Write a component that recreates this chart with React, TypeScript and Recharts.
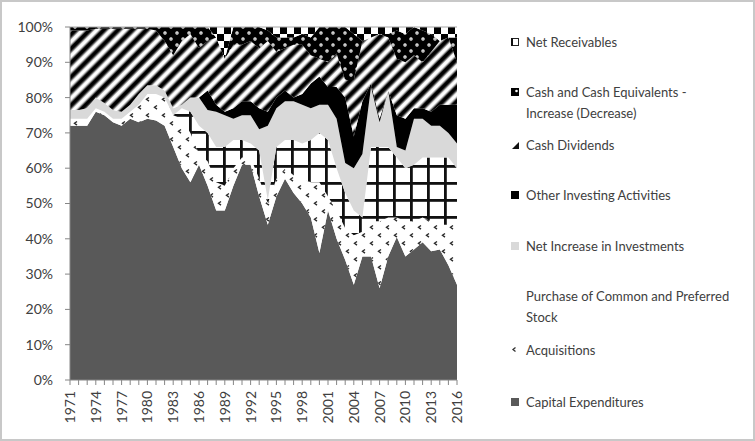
import { Area, AreaChart, ReferenceLine, XAxis, YAxis } from 'recharts';

const years = [
  1971, 1972, 1973, 1974, 1975, 1976, 1977, 1978, 1979, 1980,
  1981, 1982, 1983, 1984, 1985, 1986, 1987, 1988, 1989, 1990,
  1991, 1992, 1993, 1994, 1995, 1996, 1997, 1998, 1999, 2000,
  2001, 2002, 2003, 2004, 2005, 2006, 2007, 2008, 2009, 2010,
  2011, 2012, 2013, 2014, 2015, 2016,
];

// shares in % per year (bottom of the stack first)
const capitalExpenditures = [
  72, 72, 72, 76, 75, 73, 72, 74, 73, 74,
  73.5, 72, 66, 60, 56, 61, 55, 48, 48, 55,
  61, 61, 52, 44, 52, 57, 53, 50, 46, 36,
  48, 40, 34, 27, 35, 35, 26, 35, 40.5, 35,
  37, 39, 36.5, 37, 32.5, 27,
];
const acquisitions = [
  2, 2, 2, 1, 1, 1, 2, 2, 5, 7,
  7.5, 8, 9, 14, 14, 3, 7, 8, 7, 5,
  2, 2, 5, 6, 5, 3, 5, 7, 10, 20,
  4, 8, 9, 14, 7, 10, 19, 11, 5.5, 10,
  8, 7, 8.5, 7, 11.5, 17,
];
const stockPurchase = [
  0, 0, 0, 0, 0, 0, 0, 0, 0, 0,
  0, 0, 0, 3, 6, 8, 8, 10, 11, 8,
  5, 4, 8, 1, 9, 8, 10, 10, 12, 14,
  16, 12, 10, 7, 4, 21, 21, 20, 17, 15,
  16, 17, 18, 19, 19, 16,
];
const netInvestments = [
  2.5, 2.5, 3, 3, 2.5, 2.5, 2, 2, 3, 2.5,
  2.5, 2, 2, 1, 4, 8, 6.5, 10, 9, 6,
  7, 8, 6, 21, 11, 11, 11, 11, 9, 8,
  10, 14, 8.5, 12, 18, 17, 7, 16, 3, 5,
  13, 11, 9, 9, 7, 7,
];
const otherInvesting = [
  0, 0, 0, 0, 0, 0, 0, 0, 0, 0,
  0, 0, 0, 0, 0, 0, 5.5, 2, 1, 3,
  4, 4, 6, 4, 3, 3, 1, 3, 7, 8,
  5, 9, 18.5, 9, 15, 1, 1, 0, 9, 9,
  3, 3, 4, 6, 8, 11,
];
const cashDividends = [
  22.5, 22.5, 22, 19.5, 21, 23, 23.5, 21.5, 18.5, 16,
  15.5, 14, 15, 18, 18, 14, 14, 19, 15, 18,
  16, 17, 17, 20, 13, 12, 15, 14, 8, 5,
  7, 9.5, 5, 16, 17, 13, 24, 15, 16, 16,
  15, 13, 17, 18, 19, 12,
];
const cashChange = [
  1, 1, 1, 0.5, 0.5, 0.5, 0.5, 0.5, 0.5, 0.5,
  1, 4, 8, 4, 2, 6, 4, 0, 0, 5,
  5, 4, 6, 3, 4, 3, 2, 3, 5, 9,
  10, 7.5, 15, 13, 0, 0, 0, 1, 8, 8,
  8, 9, 5, 0, 0, 7,
];
const netReceivables = [
  0, 0, 0, 0, 0, 0, 0, 0, 0, 0,
  0, 0, 0, 0, 0, 0, 0, 3, 9, 0,
  0, 0, 0, 1, 3, 3, 3, 2, 3, 0,
  0, 0, 0, 2, 4, 3, 2, 2, 1, 2,
  0, 1, 2, 4, 3, 3,
];

const yTicks = [0, 0.1, 0.2, 0.3, 0.4, 0.5, 0.6, 0.7, 0.8, 0.9, 1];

const series = [
  { key: 'ce', name: 'Capital Expenditures', values: capitalExpenditures, fill: '#595959' },
  { key: 'aq', name: 'Acquisitions', values: acquisitions, fill: 'url(#pat-aq)' },
  { key: 'ps', name: 'Purchase of Common and Preferred Stock', values: stockPurchase, fill: 'url(#pat-ps)' },
  { key: 'ni', name: 'Net Increase in Investments', values: netInvestments, fill: '#d9d9d9' },
  { key: 'oi', name: 'Other Investing Activities', values: otherInvesting, fill: '#000000' },
  { key: 'cd', name: 'Cash Dividends', values: cashDividends, fill: 'url(#pat-cd)' },
  { key: 'cc', name: 'Cash and Cash Equivalents - Increase (Decrease)', values: cashChange, fill: 'url(#pat-cc)' },
  { key: 'nr', name: 'Net Receivables', values: netReceivables, fill: 'url(#pat-nr)' },
];

const data = years.map((year, i) => {
  const row: Record<string, number> = { year };
  series.forEach((s) => {
    row[s.key] = s.values[i];
  });
  return row;
});

const FONT = 'Lato, "Open Sans", sans-serif';
const AXIS = '#868686';
const TEXT = '#404040';

function YearTick(props: any) {
  const { x, y, payload, index } = props;
  return (
    <g>
      <line x1={x} x2={x} y1={y - 11} y2={y - 6} stroke={AXIS} />
      {index % 3 === 0 && (
        <text
          transform={`translate(${x},${y}) rotate(-90)`}
          textAnchor="end"
          dy="0.36em"
          fontSize={14}
          fontFamily={FONT}
          fill={TEXT}
        >
          {payload.value}
        </text>
      )}
    </g>
  );
}

function Marker({ kind }: { kind: string }) {
  const box = { position: 'absolute' as const, left: 0, top: -4, width: 8, height: 8 };
  if (kind === 'nr')
    return (
      <svg style={box} width={8} height={8}>
        <rect x={0.5} y={0.5} width={7} height={7} fill="#fff" stroke="#222" strokeWidth={1} />
        <rect x={0} y={0} width={2} height={8} fill="#111" />
      </svg>
    );
  if (kind === 'cc')
    return (
      <svg style={box} width={8} height={8}>
        <rect width={8} height={8} fill="#000" />
        <circle cx={5.5} cy={3} r={1.3} fill="#fff" />
      </svg>
    );
  if (kind === 'cd')
    return (
      <svg style={box} width={8} height={8}>
        <path d="M8,1 L8,8 L1,8 Z" fill="#111" />
      </svg>
    );
  if (kind === 'aq')
    return (
      <svg style={box} width={8} height={8}>
        <path d="M4.5,1.5 L2,3.5 L4.5,5.5" fill="none" stroke="#333" strokeWidth={1.3} />
      </svg>
    );
  if (kind === 'ps') return null;
  const fill = kind === 'ce' ? '#595959' : kind === 'ni' ? '#d9d9d9' : '#000';
  return (
    <svg style={box} width={8} height={8}>
      <rect width={8} height={8} fill={fill} />
    </svg>
  );
}

const legendRows = [
  { key: 'nr', lines: ['Net Receivables'], top: 42 },
  { key: 'cc', lines: ['Cash and Cash Equivalents -', 'Increase (Decrease)'], top: 92 },
  { key: 'cd', lines: ['Cash Dividends'], top: 145 },
  { key: 'oi', lines: ['Other Investing Activities'], top: 195 },
  { key: 'ni', lines: ['Net Increase in Investments'], top: 246 },
  { key: 'ps', lines: ['Purchase of Common and Preferred', 'Stock'], top: 296 },
  { key: 'aq', lines: ['Acquisitions'], top: 350 },
  { key: 'ce', lines: ['Capital Expenditures'], top: 402 },
];

function SideLegend() {
  return (
    <div style={{ position: 'absolute', left: 511, top: 0, fontFamily: FONT, fontSize: 13, color: TEXT }}>
      {legendRows.map((row) => (
        <div key={row.key} style={{ position: 'absolute', left: 0, top: row.top, width: 230 }}>
          <Marker kind={row.key} />
          {row.lines.map((line, j) => (
            <div
              key={j}
              style={{ position: 'absolute', left: 15, top: j * 21 - 9, lineHeight: '18px', whiteSpace: 'nowrap' }}
            >
              {line}
            </div>
          ))}
        </div>
      ))}
    </div>
  );
}

export default function App() {
  return (
    <div style={{ position: 'absolute', left: 0, top: 0, width: 755, height: 441, background: '#fff', overflow: 'hidden' }}>
      <AreaChart
        width={755}
        height={441}
        data={data}
        stackOffset="expand"
        margin={{ top: 27, right: 298, bottom: 0, left: 0 }}
      >
        <defs>
          <pattern id="pat-aq" width={16} height={16} patternUnits="userSpaceOnUse">
            <rect width={16} height={16} fill="#fff" />
            <path d="M5,1.5 L2.5,3.3 L5,5.1 M13,9.5 L10.5,11.3 L13,13.1" fill="none" stroke="#2a2a2a" strokeWidth={1.4} />
          </pattern>
          <pattern id="pat-ps" width={17} height={17} patternUnits="userSpaceOnUse" x={2} y={12}>
            <rect width={17} height={17} fill="#fff" />
            <rect width={17} height={2.8} fill="#111" />
            <rect width={2.8} height={17} fill="#111" />
          </pattern>
          <linearGradient id="grad-cd" x1="0" x2="1" y1="0" y2="0">
            <stop offset="0" stopColor="#fff" />
            <stop offset="0.1" stopColor="#fff" />
            <stop offset="0.34" stopColor="#000" />
            <stop offset="0.6" stopColor="#000" />
            <stop offset="0.86" stopColor="#fff" />
            <stop offset="1" stopColor="#fff" />
          </linearGradient>
          <pattern id="pat-cd" width={10} height={10} patternUnits="userSpaceOnUse" patternTransform="rotate(45)">
            <rect width={10} height={10} fill="url(#grad-cd)" />
          </pattern>
          <pattern id="pat-cc" width={12} height={12} patternUnits="userSpaceOnUse">
            <rect width={12} height={12} fill="#000" />
            <circle cx={3} cy={3} r={1.7} fill="#fff" />
            <circle cx={3} cy={3} r={0.6} fill="#000" />
            <circle cx={9} cy={9} r={1.7} fill="#fff" />
            <circle cx={9} cy={9} r={0.6} fill="#000" />
          </pattern>
          <pattern id="pat-nr" width={14} height={14} patternUnits="userSpaceOnUse" y={27}>
            <rect width={14} height={14} fill="#fff" />
            <rect width={7} height={7} fill="#000" />
            <rect x={7} y={7} width={7} height={7} fill="#000" />
          </pattern>
        </defs>
        <XAxis
          dataKey="year"
          type="category"
          interval={0}
          height={61}
          tickSize={5}
          tickMargin={6}
          tickLine={false}
          axisLine={{ stroke: AXIS }}
          tick={<YearTick />}
        />
        <YAxis
          width={70}
          domain={[0, 1]}
          ticks={yTicks}
          tickFormatter={(v: number) => `${Math.round(v * 100)}%`}
          tickSize={5}
          tickMargin={12}
          axisLine={{ stroke: AXIS }}
          tickLine={{ stroke: AXIS }}
          tick={{ fontSize: 14, fontFamily: FONT, fill: TEXT }}
        />
        {series.map((s) => (
          <Area
            key={s.key}
            type="linear"
            dataKey={s.key}
            name={s.name}
            stackId="1"
            stroke="none"
            fill={s.fill}
            fillOpacity={1}
            isAnimationActive={false}
          />
        ))}
        <ReferenceLine y={1} stroke="#a6a6a6" />
      </AreaChart>
      <SideLegend />
      <div
        style={{
          position: 'absolute',
          inset: 0,
          border: '2px solid #c8c8c8',
          pointerEvents: 'none',
        }}
      />
    </div>
  );
}
